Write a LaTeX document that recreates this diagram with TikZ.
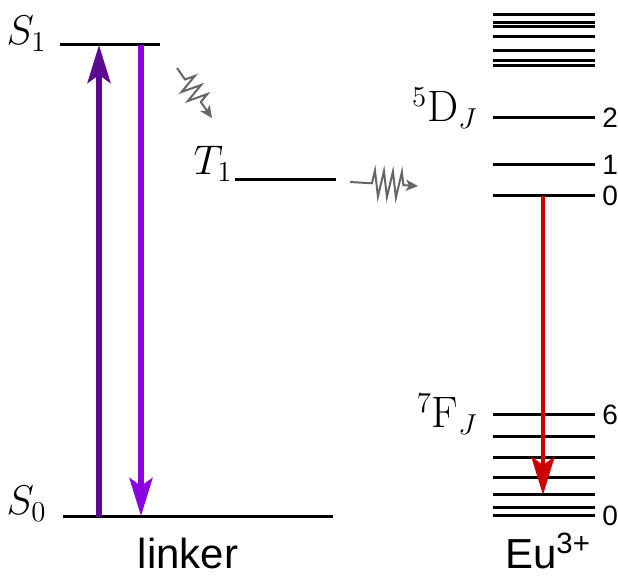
\documentclass[tikz,border=0pt]{standalone}
\usepackage{fontspec}
\setsansfont{Liberation Sans}
\usetikzlibrary{arrows.meta,decorations.pathmorphing}

\definecolor{absorb}{HTML}{5C0A91}
\definecolor{fluor}{HTML}{8A00E0}
\definecolor{euemit}{HTML}{CC0000}
\definecolor{isc}{HTML}{666666}

\begin{document}
\begin{tikzpicture}[
		x=0.5pt, y=-0.5pt,
		level/.style={line width=1.5pt},
		bigarrow/.style={line width=2.6pt, -{Stealth[length=19pt, width=11.5pt, inset=4pt]}},
		wavy/.style={draw=isc, line width=1pt, decorate,
			-{Stealth[length=6pt, width=5.5pt, inset=1.5pt]}},
		state/.style={font=\fontsize{22}{22}\selectfont, anchor=base east, inner sep=0pt},
		jnum/.style={font=\sffamily\fontsize{14}{14}\selectfont, anchor=west, inner sep=0pt, xshift=3pt},
		caption/.style={font=\sffamily\fontsize{21}{21}\selectfont, anchor=base, inner sep=0pt}
		]
		\useasboundingbox (0,0) rectangle (618,576);
		
		% Linker levels
		\draw[level] (60,45) -- (160,45);
		\draw[level] (63,517) -- (333,517);
		\draw[level] (235,180) -- (336,180);
		\node[state] (S1) at (47,45) {$S_1$};
		\node[state] (S0) at (47,515) {$S_0$};
		\node[state] (T1) at (233,175) {$T_1$};
		
		% Eu levels, upper group
		\foreach \y in {15, 22.5, 27, 36.5, 51, 60.5, 65.5}
			\draw[level] (493,\y) -- (595,\y);
		
		% 5D_J
		\draw[level] (493,118) -- (595,118) node[jnum] (D2) {2};
		\draw[level] (493,165) -- (595,165) node[jnum] (D1) {1};
		\draw[level] (493,196) -- (595,196) node[jnum] (D0) {0};
		\node[state] (Dlab) at (478,122) {$^5\mathrm{D}_J$};
		
		% 7F_J
		\draw[level] (493,415) -- (595,415) node[jnum] (F6) {6};
		\foreach \y in {437, 458, 478, 495, 508}
			\draw[level] (493,\y) -- (595,\y);
		\draw[level] (493,516) -- (595,516) node[jnum] (F0) {0};
		\node[state] (Flab) at (478,428) {$^7\mathrm{F}_J$};
		
		% Transitions
		\coordinate (upS0) at (99,517);
		\coordinate (upS1) at (99,45);
		\coordinate (dnS1) at (141,45);
		\coordinate (dnS0) at (141,516);
		\coordinate (emD0) at (543,196);
		\coordinate (emF) at (543,495);
		\draw[bigarrow, absorb] (upS0) -- (upS1);
		\draw[bigarrow, fluor] (dnS1) -- (dnS0);
		\draw[bigarrow, euemit, line width=2.3pt] (emD0) -- (emF);
		
		% Nonradiative steps
		\coordinate (iscA) at (177,68);
		\coordinate (iscB) at (212,118);
		\coordinate (etA) at (350,182);
		\coordinate (etB) at (418,186);
		\draw[wavy, decoration={zigzag, amplitude=5pt, segment length=5.5pt, pre length=7pt, post length=8pt}] (iscA) -- (iscB);
		\draw[wavy, decoration={zigzag, amplitude=6.5pt, segment length=4.5pt, pre length=11pt, post length=7pt}] (etA) -- (etB);
		
		% Captions
		\node[caption] (linker) at (188,569) {linker};
		\node[caption] (eu) at (548,569) {Eu\textsuperscript{3+}};
		
	\end{tikzpicture}
\end{document}
